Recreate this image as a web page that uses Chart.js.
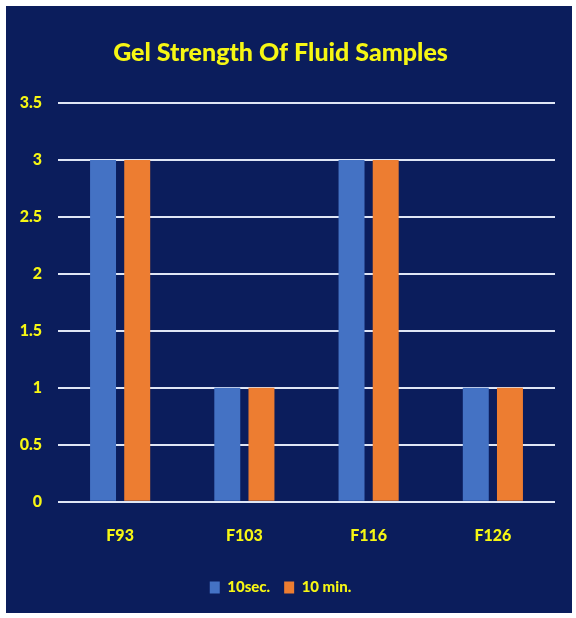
<!DOCTYPE html>
<html>
<head>
<meta charset="utf-8">
<script src="https://cdn.jsdelivr.net/npm/chart.js@4"></script>
<style>
  html, body { margin: 0; padding: 0; background: #fff; }
  #wrap { width: 576px; height: 618px; }
</style>
</head>
<body>
<div id="wrap"><canvas id="myChart" width="576" height="618"></canvas></div>
<script>
const samples = ['F93', 'F103', 'F116', 'F126'];
const tenSec = [3, 1, 3, 1];
const tenMin = [3, 1, 3, 1];
const yTicks = [0, 0.5, 1, 1.5, 2, 2.5, 3, 3.5];

const navy = '#0b1d5c';
const yellow = '#f6f614';

// navy panel inside the white frame
const panel = {
  id: 'panel',
  beforeDraw(chart) {
    const c = chart.ctx;
    c.save();
    c.fillStyle = '#ffffff';
    c.fillRect(0, 0, chart.width, chart.height);
    c.fillStyle = navy;
    c.fillRect(6, 6, 566, 607);
    c.restore();
  }
};

const ctx = document.getElementById('myChart');

new Chart(ctx, {
  type: 'bar',
  data: {
    labels: samples,
    datasets: [{
      label: '10sec.',
      data: tenSec,
      backgroundColor: '#4472c4',
      categoryPercentage: 0.55,
      barPercentage: 0.76
    }, {
      label: '10 min.',
      data: tenMin,
      backgroundColor: '#ed7d31',
      categoryPercentage: 0.55,
      barPercentage: 0.76
    }]
  },
  options: {
    responsive: false,
    animation: false,
    layout: {
      padding: { left: 6, right: 21, top: 6, bottom: 13 }
    },
    scales: {
      y: {
        min: 0,
        max: 3.5,
        afterFit: scale => { scale.width = 52; },
        afterBuildTicks: scale => { scale.ticks = yTicks.map(v => ({ value: v })); },
        border: { display: false },
        grid: {
          color: '#dfe6f5',
          lineWidth: 2,
          drawTicks: false
        },
        ticks: {
          color: yellow,
          padding: 16,
          callback: v => String(v),
          font: { family: 'Lato', size: 16, weight: 900 }
        }
      },
      x: {
        afterFit: scale => { scale.height += 5; },
        border: { display: false },
        grid: { display: false },
        ticks: {
          color: yellow,
          padding: 16,
          font: { family: 'Lato', size: 16, weight: 900 }
        }
      }
    },
    plugins: {
      title: {
        display: true,
        text: 'Gel Strength Of Fluid Samples',
        color: yellow,
        padding: { top: 32, bottom: 35 },
        font: { family: 'Lato', size: 25, weight: 900 }
      },
      legend: {
        position: 'bottom',
        labels: {
          color: yellow,
          boxWidth: 10,
          boxHeight: 12,
          padding: 14,
          font: { family: 'Lato', size: 15, weight: 900 }
        }
      },
      tooltip: { enabled: false }
    }
  },
  plugins: [panel]
});
</script>
</body>
</html>
